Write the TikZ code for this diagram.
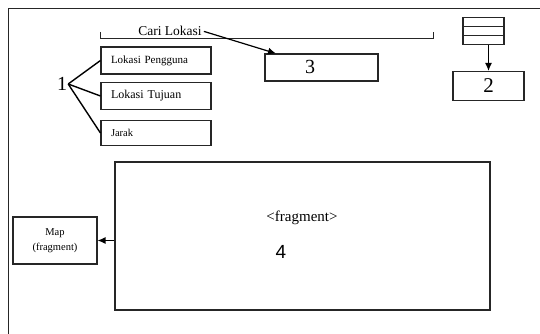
\documentclass[tikz,border=0pt]{standalone}
\usepackage{fontspec}
\setmainfont{Liberation Serif}
\newfontfamily\arialfont{Liberation Sans}
\usetikzlibrary{arrows.meta}
\begin{document}
\begin{tikzpicture}[x=1pt,y=-1pt,
  box/.style={draw=black!85, line width=1.1pt, inner sep=0pt},
  itembox/.style={box, minimum height=27pt, text width=90pt, inner xsep=10pt, align=left},
  conn/.style={draw=black, line width=1.2pt},
  arr/.style={conn, -{Latex[length=8pt,width=7pt]}}]
\useasboundingbox (0,0) rectangle (540,334);
% frame (cut off at right and bottom)
\draw[line width=1pt, black!85] (8,334) -- (8,9) -- (540,9);
% bracket "Cari Lokasi"
\draw[line width=1pt, black!85] (100.5,32) -- (100.5,38.5) -- (433,38.5) -- (433,32);
\node[font=\fontsize{13.5}{15}\selectfont, fill=white, inner xsep=2pt, inner ysep=0pt, anchor=base] (cari) at (170,36) {Cari Lokasi};
% item boxes
\node[itembox, font=\fontsize{11}{13}\selectfont] (peng) at (156,60.5) {Lokasi Pengguna};
\node[itembox, font=\fontsize{12}{14}\selectfont] (tuj) at (156,96) {Lokasi Tujuan};
\node[itembox, font=\fontsize{10.5}{12}\selectfont, minimum height=25pt] (jar) at (156,133) {Jarak};
\node[font=\fontsize{20}{22}\selectfont, inner sep=1pt] (one) at (62,84) {1};
\draw[conn, line width=1.4pt] (one.east) -- (peng.west);
\draw[conn, line width=1.4pt] (one.east) -- (tuj.west);
\draw[conn, line width=1.4pt] (one.east) -- (jar.west);
% box 3
\node[box, minimum width=113pt, minimum height=27pt] (b3) at (321.5,67.5) {};
\node[font=\fontsize{20}{22}\selectfont] (t3) at (310,67) {3};
\coordinate (c3) at (276,53.5);
\draw[arr] (cari.east) -- (c3);
% stack icon and box 2
\node[box, minimum width=41pt, minimum height=27pt] (stack) at (483.5,31) {};
\draw[line width=1.1pt, black!85] (stack.west |- 0,26.7) -- (stack.east |- 0,26.7);
\draw[line width=1.1pt, black!85] (stack.west |- 0,35.3) -- (stack.east |- 0,35.3);
\node[box, minimum width=71pt, minimum height=29pt, font=\fontsize{21}{23}\selectfont] (b2) at (488.5,86) {2};
\draw[arr] (stack.south -| b2.north) -- (b2.north);
% big fragment box
\node[box, minimum width=375pt, minimum height=148pt] (frag) at (302.5,236) {};
\node[font=\fontsize{15}{17}\selectfont] (tfrag) at (302,218) {<fragment>};
\node[font=\arialfont\fontsize{19}{21}\selectfont] (t4) at (281,252) {4};
% map box
\node[box, minimum width=84pt, minimum height=47pt, align=center, font=\fontsize{10.5}{15.5}\selectfont] (map) at (55,240.5) {Map\\(fragment)};
\draw[arr] (frag.west |- map.east) -- (map.east);
\end{tikzpicture}
\end{document}
